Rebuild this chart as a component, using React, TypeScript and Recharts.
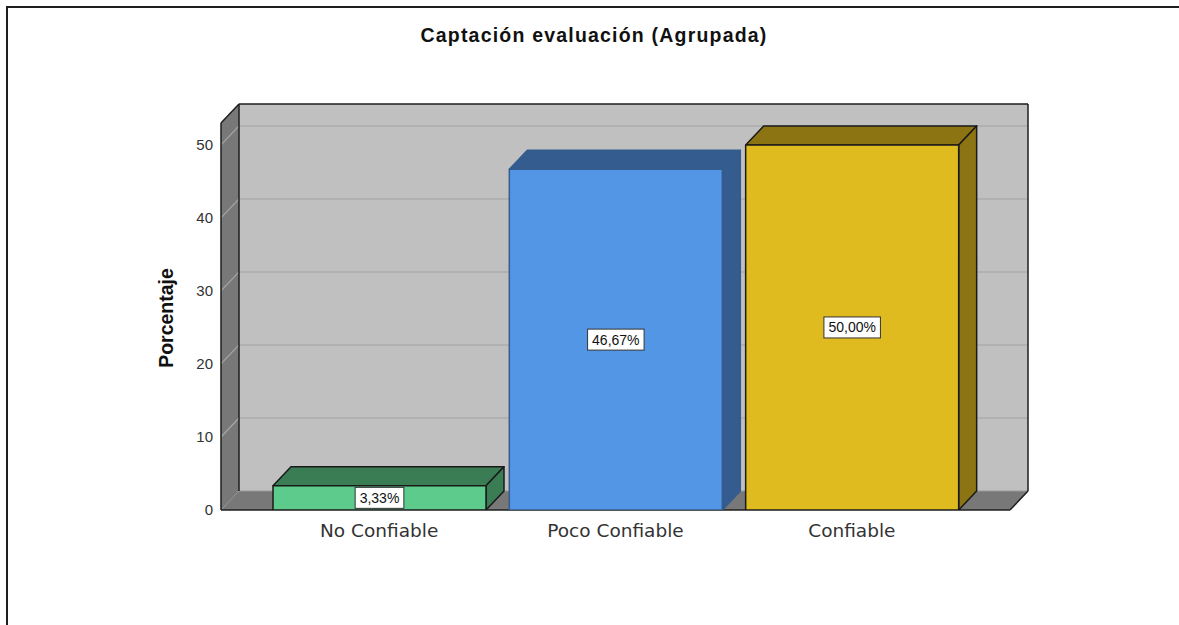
import React from 'react'
import { BarChart, Bar, XAxis, YAxis, ReferenceArea, LabelList } from 'recharts'

const categories = ['No Confiable', 'Poco Confiable', 'Confiable']
const percentages = [3.33, 46.67, 50.0]
const yTicks = [0, 10, 20, 30, 40, 50]
const Y_MAX = 53

// front face / shaded faces / outline per category
const FRONT = ['#5ccb8b', '#5396e5', '#e0bb20']
const SHADE = ['#3a7d55', '#345c8f', '#8c7412']
const EDGE = ['#1a1a1a', '#345c8f', '#1a1a1a']

// 3D depth offset
const DX = 18
const DY = -19

const WALL = '#c0c0c0'
const SIDE = '#787878'
const FONT = 'Arial, "Liberation Sans", sans-serif'

const data = categories.map((name, i) => ({ name, pct: percentages[i] }))

function Walls(props: any) {
  const { x, y, width, height } = props
  const bottom = y + height
  const right = x + width
  const ty = (v: number) => bottom - (v / Y_MAX) * height
  const edge = { stroke: '#1e1e1e', strokeWidth: 1.5 }
  return (
    <g>
      <rect x={x + DX} y={y + DY} width={width} height={height} fill={WALL} />
      <polygon points={`${x},${y} ${x + DX},${y + DY} ${x + DX},${bottom + DY} ${x},${bottom}`} fill={SIDE} />
      <polygon points={`${x},${bottom} ${x + DX},${bottom + DY} ${right + DX},${bottom + DY} ${right},${bottom}`} fill={SIDE} />
      {yTicks.filter(v => v > 0).map(v => (
        <g key={v}>
          <line x1={x + DX} x2={right + DX} y1={ty(v) + DY} y2={ty(v) + DY} stroke="#acacac" strokeWidth={1.5} />
          <line x1={x} y1={ty(v)} x2={x + DX} y2={ty(v) + DY} stroke="#a6a6a6" strokeWidth={1.2} />
        </g>
      ))}
      <line x1={x + DX} x2={right + DX} y1={bottom + DY} y2={bottom + DY} stroke="#9a9a9a" />
      <line x1={x + DX} y1={y + DY} x2={x + DX} y2={bottom + DY} {...edge} />
      <line x1={x + DX} y1={y + DY} x2={right + DX} y2={y + DY} {...edge} />
      <line x1={right + DX} y1={y + DY} x2={right + DX} y2={bottom + DY} {...edge} />
      <line x1={x} y1={y} x2={x + DX} y2={y + DY} {...edge} />
      <line x1={x} y1={y} x2={x} y2={bottom} {...edge} />
      <line x1={x} y1={bottom} x2={right} y2={bottom} {...edge} />
      <line x1={right} y1={bottom} x2={right + DX} y2={bottom + DY} {...edge} />
    </g>
  )
}

function Box3D(props: any) {
  const { x, y, width, height, index } = props
  const stroke = EDGE[index]
  const r = x + width
  const b = y + height
  return (
    <g strokeLinejoin="round">
      <polygon points={`${x},${y} ${x + DX},${y + DY} ${r + DX},${y + DY} ${r},${y}`} fill={SHADE[index]} stroke={stroke} strokeWidth={1.5} />
      <polygon points={`${r},${y} ${r + DX},${y + DY} ${r + DX},${b + DY} ${r},${b}`} fill={SHADE[index]} stroke={stroke} strokeWidth={1.5} />
      <rect x={x} y={y} width={width} height={height} fill={FRONT[index]} stroke={stroke} strokeWidth={1.5} />
    </g>
  )
}

function ValueTag(props: any) {
  const { x, y, width, height, value } = props
  const text = `${Number(value).toFixed(2).replace('.', ',')}%`
  const w = text.split('').reduce((s, c) => s + (c === ',' ? 3.9 : c === '%' ? 12.4 : 7.8), 0) + 9
  const cx = x + width / 2
  const cy = y + height / 2
  return (
    <g>
      <rect x={cx - w / 2} y={cy - 10.5} width={w} height={21} fill="#ffffff" stroke="#333" strokeWidth={1} />
      <text x={cx} y={cy} textAnchor="middle" dominantBaseline="central" fontSize={14} fontFamily={FONT} fill="#111">
        {text}
      </text>
    </g>
  )
}

export default function App() {
  return (
    <div style={{ position: 'absolute', left: 0, top: 0, width: 1179, height: 625, overflow: 'hidden', background: '#fff' }}>
      <div style={{ position: 'absolute', left: 6, top: 6, width: 1400, height: 900, borderTop: '2px solid #1e1e1e', borderLeft: '2px solid #1e1e1e' }} />
      <div style={{
        position: 'absolute', left: 0, top: 25, width: 1188, textAlign: 'center',
        fontFamily: FONT, fontWeight: 700, fontSize: 19.5, lineHeight: '20px',
        letterSpacing: 1.2, color: '#111',
      }}>
        Captación evaluación (Agrupada)
      </div>
      <div style={{
        position: 'absolute', left: 165.5, top: 318, transform: 'translate(-50%, -50%) rotate(-90deg)',
        fontFamily: FONT, fontWeight: 700, fontSize: 19.5, lineHeight: '20px', color: '#111', whiteSpace: 'nowrap',
      }}>
        Porcentaje
      </div>
      <div style={{ position: 'absolute', left: 0, top: 0 }}>
        <BarChart width={1179} height={625} data={data} margin={{ top: 123, right: 169, bottom: 85, left: 140 }}>
          <XAxis xAxisId="wall" type="number" domain={[0, 1]} allowDataOverflow hide />
          <XAxis
            dataKey="name" height={30} padding={{ left: 40, right: 40 }}
            axisLine={false} tickLine={false} tickSize={0} tickMargin={14}
            tick={{ fontSize: 18.5, fontFamily: '"DejaVu Sans", sans-serif', fill: '#333' }}
          />
          <YAxis
            width={81} domain={[0, Y_MAX]} ticks={yTicks} allowDataOverflow
            axisLine={false} tickLine={false} tickSize={0} tickMargin={8}
            tick={{ fontSize: 15, fontFamily: FONT, fill: '#333' }}
          />
          <ReferenceArea xAxisId="wall" y1={0} y2={Y_MAX} ifOverflow="visible" shape={<Walls />} />
          <Bar dataKey="pct" barSize={213} shape={<Box3D />} isAnimationActive={false}>
            <LabelList dataKey="pct" content={<ValueTag />} />
          </Bar>
        </BarChart>
      </div>
    </div>
  )
}
